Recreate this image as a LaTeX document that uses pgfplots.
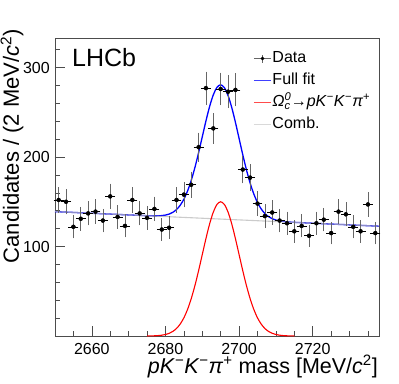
\documentclass[border=0pt]{standalone}
\usepackage{fontspec}
\setmainfont{Liberation Sans}
\usepackage{pgfplots}
\usepackage{pgfplotstable}
\pgfplotsset{compat=1.18}

% binned data, 2 MeV bins, y error = sqrt(N)
\pgfplotstableread{
x y ey
2651 152 12.33
2653 150 12.25
2655 122 11.05
2657 131 11.45
2659 137 11.70
2661 139 11.79
2663 129 11.36
2665 156 12.49
2667 133 11.53
2669 123 11.09
2671 152 12.33
2673 137 11.70
2675 132 11.49
2677 142 11.92
2679 119 10.91
2681 121 11.00
2683 152 12.33
2685 158 12.57
2687 169 13.00
2689 211 14.53
2691 277 16.64
2693 232 15.23
2695 276 16.61
2697 273 16.52
2699 275 16.58
2701 186 13.64
2703 177 13.30
2705 148 12.17
2707 134 11.58
2709 138 11.75
2711 129 11.36
2713 126 11.22
2715 117 10.82
2717 123 11.09
2719 112 10.58
2721 126 11.22
2723 130 11.40
2725 115 10.72
2727 139 11.79
2729 136 11.66
2731 122 11.05
2733 117 10.82
2735 147 12.12
2737 115 10.72
}\datatable

\begin{document}
\begin{tikzpicture}
\useasboundingbox (-55pt,-47pt) rectangle (344pt,336pt);
\begin{axis}[
    at={(0,0)}, anchor=south west,
    scale only axis,
    width=324pt, height=298pt,
    xmin=2650, xmax=2738,
    ymin=0, ymax=333,
    xtick={2660,2680,2700,2720},
    minor xtick={2650,2655,...,2735},
    ytick={100,200,300},
    minor ytick={20,40,...,320},
    tick pos=left,
    tick align=inside,
    major tick length=10pt,
    minor tick length=5pt,
    axis line style={black!70, line width=0.8pt},
    every tick/.style={black!70, line width=0.6pt},
    /pgf/number format/assume math mode=true,
    /pgf/number format/1000 sep={},
    tick label style={font=\fontsize{16}{19}\selectfont, inner sep=0pt},
    xticklabel style={anchor=north, yshift=-7pt},
    yticklabel style={anchor=east, xshift=-5pt},
    xlabel={\textit{pK}\textsuperscript{−}\textit{K}\textsuperscript{−}\textit{π}\textsuperscript{+} mass [MeV/\textit{c}\textsuperscript{2}]},
    ylabel={Candidates / (2 MeV/\textit{c}\textsuperscript{2})},
    every axis x label/.style={at={(axis description cs:0.997,-0.1245)}, anchor=base east, inner sep=0pt, font=\fontsize{21.5}{26}\selectfont},
    every axis y label/.style={at={(axis description cs:-0.1327,1.0302)}, rotate=90, anchor=east, inner sep=0pt, font=\fontsize{22}{26}\selectfont},
    legend style={at={(axis description cs:0.612,0.962)}, anchor=north west,
        draw=none, fill=none, inner sep=0pt,
        font=\fontsize{16}{19}\selectfont, row sep=4pt,
        nodes={inner sep=1pt, text height=12pt, text depth=4pt}},
    legend cell align=left,
    clip=false,
]
% legend entries
\addlegendimage{legend image code/.code={
    \draw[black!60, line width=0.6pt] (0pt,0pt) -- (17pt,0pt);
    \draw[black!60, line width=0.6pt] (8.5pt,-4pt) -- (8.5pt,4pt);
    \fill[black] (8.5pt,0pt) circle (1.6pt);}}
\addlegendentry{Data}
\addlegendimage{legend image code/.code={
    \draw[blue!75, line width=1pt] (0pt,0pt) -- (17pt,0pt);}}
\addlegendentry{Full fit}
\addlegendimage{legend image code/.code={
    \draw[red!70, line width=1pt] (0pt,0pt) -- (17pt,0pt);}}
\addlegendentry{\textit{Ω}\rlap{\textsuperscript{\textit{0}}}\textsubscript{\textit{c}}→\textit{pK}\textsuperscript{−}\textit{K}\textsuperscript{−}\textit{π}\textsuperscript{+}}
\addlegendimage{legend image code/.code={
    \draw[gray!30, line width=1pt] (0pt,0pt) -- (17pt,0pt);}}
\addlegendentry{Comb.}

% full fit
\addplot[forget plot, blue, line width=1.3pt, smooth] coordinates {
(2650,139.00) (2660,137.15) (2670,135.30) (2675,134.42) (2676,134.29)
(2677,134.23) (2678,134.27) (2679,134.53) (2680,135.11) (2681,136.24)
(2682,138.18) (2683,141.31) (2684,146.04) (2685,152.82) (2686,162.02)
(2687,173.86) (2688,188.26) (2689,204.79) (2690,222.57) (2691,240.33)
(2692,256.51) (2693,269.51) (2694,277.88) (2695,280.67) (2696,277.51)
(2697,268.77) (2698,255.40) (2699,238.85) (2700,220.72) (2701,202.57)
(2702,185.67) (2703,170.90) (2704,158.69) (2705,149.12) (2706,141.97)
(2707,136.87) (2708,133.37) (2709,131.06) (2710,129.56) (2711,128.61)
(2712,127.98) (2713,127.57) (2714,127.26) (2715,127.01) (2720,126.04)
(2730,124.18) (2738,122.70)
};
% combinatorial
\addplot[forget plot, gray!55, opacity=0.75, line width=1.1pt] coordinates {
(2650,139.0) (2738,122.7)
};
% signal
\addplot[forget plot, red, line width=1.1pt, smooth] coordinates {
(2675,0.05) (2676,0.11) (2677,0.23) (2678,0.46) (2679,0.90) (2680,1.67)
(2681,2.98) (2682,5.11) (2683,8.42) (2684,13.34) (2685,20.30) (2686,29.69)
(2687,41.71) (2688,56.30) (2689,73.01) (2690,90.98) (2691,108.92)
(2692,125.29) (2693,138.47) (2694,147.03) (2695,150.00) (2696,147.03)
(2697,138.47) (2698,125.29) (2699,108.92) (2700,90.98) (2701,73.01)
(2702,56.30) (2703,41.71) (2704,29.69) (2705,20.30) (2706,13.34)
(2707,8.42) (2708,5.11) (2709,2.98) (2710,1.67) (2711,0.90) (2712,0.46)
(2713,0.23) (2714,0.11) (2715,0.05)
};
% data: vertical error bars
\addplot[forget plot, only marks, mark=none,
    error bars/.cd, y dir=both, y explicit,
    error bar style={draw=black!60, line width=0.6pt},
    error mark options={draw=black!60, mark size=1.6pt, line width=0.6pt}]
    table[x=x, y=y, y error=ey] {\datatable};
% data: points and bin widths
\addplot[forget plot, only marks, mark=*, mark size=1.7pt, black,
    error bars/.cd, x dir=both, x fixed=1,
    error bar style={draw=black, line width=0.6pt},
    error mark options={draw=black, mark size=1.3pt, line width=0.6pt}]
    table[x=x, y=y] {\datatable};

\node[anchor=base west, inner sep=0pt, font=\fontsize{25}{30}\selectfont]
    at (axis description cs:0.0525,0.9027) {LHCb};
\end{axis}
\end{tikzpicture}
\end{document}
